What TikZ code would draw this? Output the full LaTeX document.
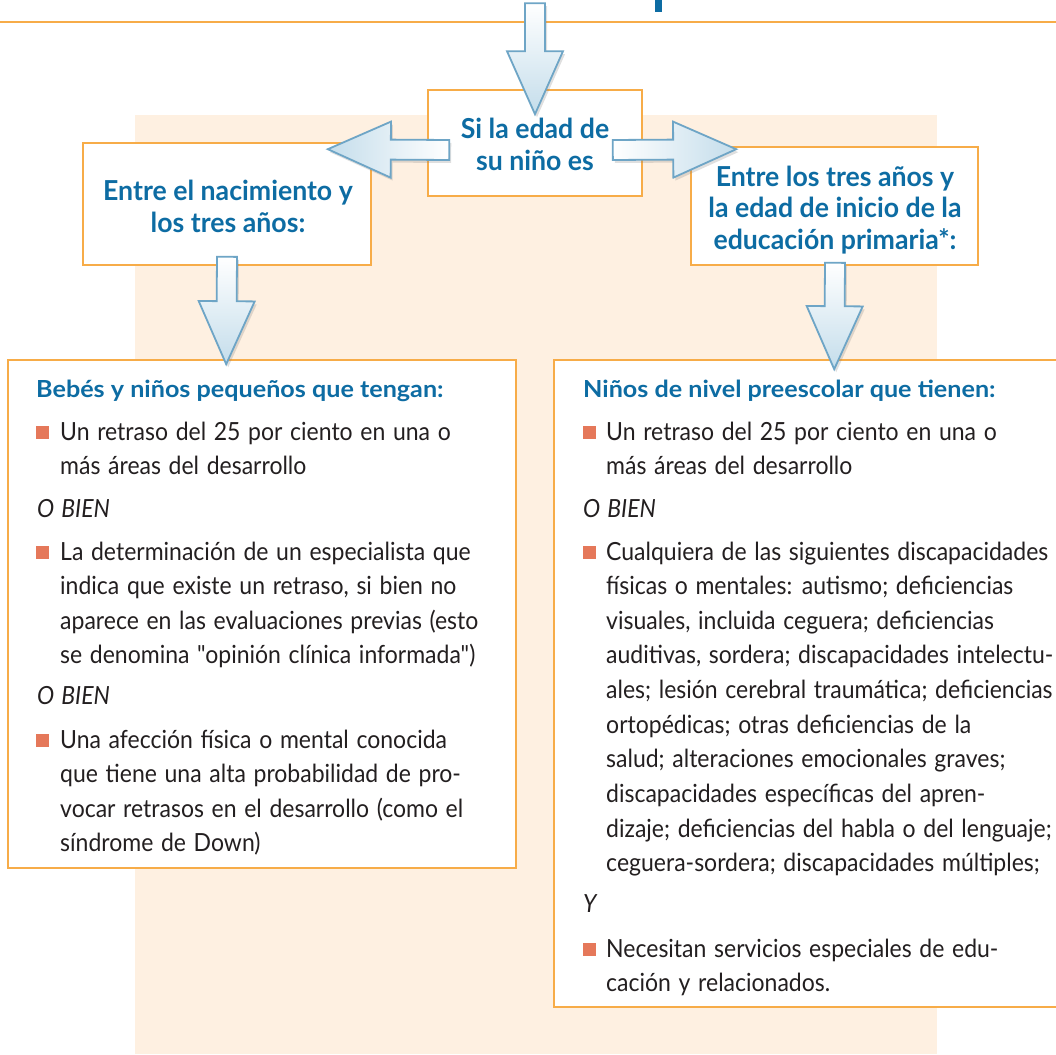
\documentclass[tikz,border=0pt]{standalone}
\usepackage{fontspec}
\setmainfont{Lato}
\newfontfamily\bodyfont{Lato}[FakeStretch=0.92, WordSpace=1.3]
\newfontfamily\headfont{Lato}[FakeStretch=1.07]
\newfontfamily\boxfont{Lato}[FakeStretch=0.97]
\usetikzlibrary{calc,shadows}
\definecolor{peach}{RGB}{254,240,225}
\definecolor{boxorange}{RGB}{247,172,72}
\definecolor{titleblue}{RGB}{13,108,163}
\definecolor{bodygray}{RGB}{35,31,32}
\definecolor{bulletred}{RGB}{229,120,90}
\definecolor{arrowline}{RGB}{110,165,198}
\definecolor{arrowfill}{RGB}{196,221,235}

\newcommand\blockarrow[3]{%
  \filldraw[arrowbody,#1] ($(#2)!10pt!90:(#3)$) -- ($(#3)!63pt!(#2)!10pt!-90:(#2)$)
    -- ($(#3)!63pt!(#2)!28pt!-90:(#2)$) -- (#3) -- ($(#3)!63pt!(#2)!28pt!90:(#2)$)
    -- ($(#3)!63pt!(#2)!10pt!90:(#2)$) -- ($(#2)!10pt!-90:(#3)$) -- cycle;
}
\newcommand\paralines[4]{%
  \foreach \lin [count=\i from 0] in {#4} {
    \node[body] (#1-\i) at (#2, #3+\i*34.65) {\lin};
  }
}

\begin{document}
\begin{tikzpicture}[x=1pt,y=-1pt,
  box/.style={draw=boxorange, line width=1.6pt, fill=white, rectangle, inner sep=0pt},
  boxtext/.style={font=\boxfont\fontsize{27.5}{31}\selectfont\bfseries, text=titleblue, anchor=base, inner sep=0pt},
  head/.style={font=\headfont\fontsize{23.5}{30}\selectfont\bfseries, text=titleblue, anchor=base west, inner sep=0pt},
  body/.style={font=\bodyfont\fontsize{25}{34}\selectfont, text=bodygray, anchor=base west, inner sep=0pt},
  orword/.style={font=\bodyfont\itshape\fontsize{25}{34}\selectfont, text=bodygray, anchor=base west, inner sep=0pt},
  bullet/.style={fill=bulletred, minimum size=13pt, inner sep=0pt, anchor=south west},
  arrowbody/.style={draw=arrowline, line width=1.8pt, line join=miter,
    drop shadow={opacity=0.25, shadow xshift=2pt, shadow yshift=-3pt}}
]
\useasboundingbox (0,0) rectangle (1056,1054);
\fill[white] (0,0) rectangle (1056,1054);
% background panel
\fill[peach] (135,115) rectangle (937,1054);
% top rule and title fragment
\draw[boxorange, line width=1.5pt] (0,22) -- (1056,22);
\fill[titleblue] (655,0) rectangle (662,12);

% boxes
\node[box, minimum width=214pt, minimum height=106pt] (ctr) at (535,143) {};
\node[box, minimum width=288pt, minimum height=122pt] (lsm) at (227,204) {};
\node[box, minimum width=287pt, minimum height=118pt] (rsm) at (834.5,206) {};
\node[box, minimum width=508pt, minimum height=508pt] (lbig) at (262,614) {};
\node[box, minimum width=508pt, minimum height=647pt] (rbig) at (808,683.5) {};

% small box texts
\node[boxtext] (c1) at (535,139) {Si la edad de};
\node[boxtext] (c2) at (535,170) {su niño es};
\node[boxtext] (l1) at (228,200) {Entre el nacimiento y};
\node[boxtext] (l2) at (228,232) {los tres años:};
\node[boxtext] (r1) at (835,186) {Entre los tres años y};
\node[boxtext] (r2) at (835,217) {la edad de inicio de la};
\node[boxtext] (r3) at (835,249) {educación primaria*:};

% left big box content
\node[head] (lh) at (36,397) {Bebés y niños pequeños que tengan:};
\node[bullet] (lb1) at (36,439.5) {};
\paralines{lp1}{60}{440}{{Un retraso del 25 por ciento en una o},{más áreas del desarrollo}}
\node[orword] (lo1) at (37,517) {O BIEN};
\node[bullet] (lb2) at (36,559.5) {};
\paralines{lp2}{60}{560}{{La determinación de un especialista que},{indica que existe un retraso, si bien no},{aparece en las evaluaciones previas (esto},{se denomina "opinión clínica informada")}}
\node[orword] (lo2) at (37,704) {O BIEN};
\node[bullet] (lb3) at (36,747.5) {};
\paralines{lp3}{60}{748}{{Una afección física o mental conocida},{que tiene una alta probabilidad de pro-},{vocar retrasos en el desarrollo (como el},{síndrome de Down)}}

% right big box content
\node[head] (rh) at (583,397) {Niños de nivel preescolar que tienen:};
\node[bullet] (rb1) at (583,439.5) {};
\paralines{rp1}{606}{440}{{Un retraso del 25 por ciento en una o},{más áreas del desarrollo}}
\node[orword] (ro1) at (583,517) {O BIEN};
\node[bullet] (rb2) at (583,559.5) {};
\paralines{rp2}{606}{560}{{Cualquiera de las siguientes discapacidades},{físicas o mentales: autismo; deficiencias},{visuales, incluida ceguera; deficiencias},{auditivas, sordera; discapacidades intelectu-},{ales; lesión cerebral traumática; deficiencias},{ortopédicas; otras deficiencias de la},{salud; alteraciones emocionales graves;},{discapacidades específicas del apren-},{dizaje; deficiencias del habla o del lenguaje;},{ceguera-sordera; discapacidades múltiples;}}
\node[orword] (ro2) at (583,912) {Y};
\node[bullet] (rb3) at (583,956.5) {};
\paralines{rp3}{606}{957}{{Necesitan servicios especiales de edu-},{cación y relacionados.}}

% arrow end points
\coordinate (topin) at ($(ctr.north)+(0,-86)$);
\coordinate (toptip) at ($(ctr.north)+(0,25)$);
\coordinate (lastart) at ($(ctr.west)+(22,7)$);
\coordinate (latip) at ($(lsm.north east)+(-44,7)$);
\coordinate (rastart) at ($(ctr.east)+(-30,7)$);
\coordinate (ratip) at ($(rsm.north west)+(46,3)$);
\coordinate (ldstart) at ($(lsm.south)+(0,-9)$);
\coordinate (ldtip) at ($(lbig.north west)+(219,5)$);
\coordinate (rdstart) at ($(rsm.south)+(0.5,-3)$);
\coordinate (rdtip) at ($(rbig.north west)+(281,10)$);

% arrows
\blockarrow{top color=white, bottom color=arrowfill}{topin}{toptip}
\blockarrow{left color=arrowfill, right color=white}{lastart}{latip}
\blockarrow{left color=white, right color=arrowfill}{rastart}{ratip}
\blockarrow{top color=white, bottom color=arrowfill}{ldstart}{ldtip}
\blockarrow{top color=white, bottom color=arrowfill}{rdstart}{rdtip}
\end{tikzpicture}
\end{document}
